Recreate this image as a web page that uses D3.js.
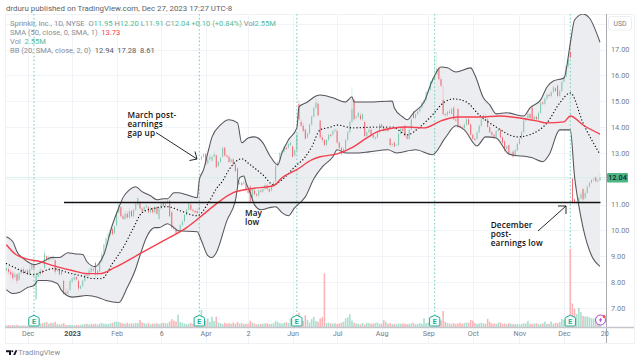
<!DOCTYPE html>
<html><head><meta charset="utf-8">
<script src="https://cdn.jsdelivr.net/npm/d3@7/dist/d3.min.js"></script>
<style>html,body{margin:0;padding:0;background:#fff}svg{display:block}text{font-family:Roboto,"Open Sans",sans-serif}</style>
</head><body><svg id="c" width="640" height="362"></svg>
<script>
const opens=[8.45,8.50,8.40,8.35,8.20,8.30,8.10,8.35,8.50,8.35,
8.45,8.30,8.50,8.70,7.35,8.20,8.30,8.45,8.55,9.00,
8.85,8.95,8.90,8.85,8.45,8.50,8.30,8.05,7.60,7.55,
7.70,8.00,8.10,8.20,8.05,7.75,7.85,8.05,8.30,8.25,
8.40,8.50,8.75,8.30,8.40,8.80,9.10,9.40,9.70,9.85,
10.05,9.90,10.20,10.70,10.90,10.55,10.45,10.65,10.50,10.75,
10.55,10.80,11.00,11.10,10.85,10.75,10.90,10.90,10.70,10.85,
10.70,10.90,10.45,10.85,11.10,10.95,11.05,11.15,10.70,10.10,
10.05,9.95,9.95,10.20,10.35,10.60,10.80,11.00,10.80,10.75,
10.75,10.80,12.75,12.85,12.95,12.60,12.75,12.70,12.85,12.90,
12.50,12.65,12.85,13.20,12.90,12.85,12.65,12.75,12.55,12.40,
11.80,11.85,11.80,11.80,11.55,11.70,11.15,11.55,11.40,11.35,
11.55,11.50,11.60,11.75,11.60,11.55,11.75,11.90,12.50,12.75,
13.00,13.05,13.20,13.20,13.30,13.25,12.90,13.10,14.90,14.20,
14.05,13.90,13.60,13.75,14.10,14.40,14.75,14.90,14.25,13.60,
13.50,13.30,13.50,13.70,13.70,13.85,13.85,13.40,13.20,13.00,
13.15,13.50,13.80,14.20,15.05,14.35,14.40,14.45,14.30,14.20,
13.65,13.80,13.90,13.70,13.55,13.60,13.80,14.10,14.00,13.85,
13.95,13.55,13.30,13.40,13.30,13.30,13.75,13.95,14.05,13.65,
13.55,13.90,14.60,14.35,14.50,14.60,14.75,14.95,15.05,15.35,
15.45,15.75,15.85,16.05,16.30,15.85,15.05,14.50,14.45,14.60,
14.50,14.75,14.30,14.70,14.05,14.00,13.95,14.10,14.30,14.10,
13.70,13.55,13.55,13.80,14.05,14.30,14.40,14.30,14.00,13.80,
13.70,13.60,13.85,13.90,13.60,13.45,13.15,13.30,12.95,13.05,
12.90,13.10,13.35,13.55,13.80,14.25,14.35,14.50,14.75,14.30,
14.40,14.30,14.55,14.95,14.90,15.10,15.25,15.20,15.35,15.50,
15.60,15.20,15.40,15.75,15.95,16.35,16.90,12.00,11.20,11.05,
11.10,11.25,11.60,11.25,11.45,11.70,11.85,11.95,12.05,11.90,11.95];
const closes=[8.55,8.40,8.30,8.15,8.30,8.05,8.35,8.50,8.35,8.45,
8.30,8.50,8.70,8.55,8.25,8.35,8.45,8.35,9.10,8.85,
8.95,8.90,9.00,8.40,8.50,8.30,8.40,7.55,7.55,7.65,
8.05,8.15,8.20,8.10,7.75,7.85,8.05,8.30,8.25,8.45,
8.55,8.45,8.30,8.45,8.80,9.10,9.45,9.70,9.85,10.00,
9.85,10.15,10.70,11.00,10.55,10.45,10.65,10.50,10.75,10.55,
10.80,11.05,11.25,10.85,10.75,10.90,10.95,10.70,10.85,10.70,
10.90,10.65,10.85,11.10,10.95,11.10,11.15,10.55,10.10,10.05,
9.90,9.97,10.20,10.35,10.60,10.80,11.05,10.80,10.75,10.70,
10.68,10.90,12.85,12.95,12.55,12.75,12.85,12.85,12.95,12.45,
12.65,12.80,13.20,12.90,12.85,12.65,12.75,12.55,12.30,11.75,
11.85,11.75,11.90,11.55,11.45,11.10,11.60,11.40,11.35,11.55,
11.50,11.60,11.75,11.60,11.50,11.75,11.85,12.50,12.65,13.00,
13.10,13.25,13.15,13.35,13.40,12.85,13.10,13.70,14.30,14.05,
13.85,13.55,13.75,14.10,14.40,14.75,14.95,14.45,13.60,13.50,
13.30,13.50,13.70,13.65,13.85,13.90,13.40,13.20,12.95,13.15,
13.50,13.80,14.20,14.70,14.30,14.40,14.55,14.30,14.50,13.65,
13.80,13.90,13.70,13.60,13.60,13.80,14.10,14.00,13.85,13.95,
13.85,13.30,13.35,13.25,13.30,13.75,13.95,13.85,13.65,13.55,
13.90,14.30,14.35,14.50,14.60,14.75,14.95,15.05,15.35,15.45,
15.75,15.85,16.00,16.25,15.85,15.60,14.50,14.45,14.60,14.55,
14.70,14.30,14.25,14.00,14.00,13.95,14.10,14.30,14.10,13.70,
13.55,13.50,13.80,14.05,14.30,14.45,14.35,14.00,13.80,13.70,
13.60,13.85,13.90,13.60,13.40,13.10,13.25,12.95,12.95,12.85,
13.10,13.35,13.55,13.80,14.25,14.35,14.50,14.35,14.30,14.40,
14.30,14.55,14.95,14.90,15.10,15.25,15.20,15.35,15.55,15.40,
15.20,15.40,15.75,15.95,16.35,16.60,16.70,11.10,11.05,11.10,
11.25,11.40,11.20,11.45,11.70,11.85,11.95,12.00,11.90,11.95,12.04];
const highs=[8.70,8.60,8.50,8.45,8.40,8.35,8.40,8.55,8.60,8.50,
8.50,8.70,8.85,8.80,8.35,8.45,8.55,8.50,9.25,9.05,
9.05,9.00,9.05,8.90,8.60,8.55,8.45,8.10,7.75,7.75,
8.10,8.25,8.30,8.25,8.10,7.90,8.10,8.35,8.40,8.55,
8.65,8.60,8.80,8.50,8.85,9.20,9.50,9.75,9.95,10.10,
10.10,10.20,10.75,11.05,10.95,10.65,10.75,10.75,10.85,10.80,
10.85,11.10,11.30,11.15,10.90,10.95,11.05,10.95,10.90,10.90,
10.95,10.95,10.90,11.15,11.15,11.15,11.25,11.20,10.75,10.20,
10.10,10.05,10.25,10.40,10.65,10.85,11.10,11.05,10.85,10.80,
10.85,11.30,12.90,13.00,13.00,12.80,12.95,12.90,13.05,12.95,
12.70,12.85,13.25,13.25,12.95,12.90,12.80,12.80,12.60,12.45,
11.95,11.90,11.95,11.85,11.60,11.75,11.65,11.60,11.45,11.60,
11.60,11.65,11.85,11.80,11.65,11.80,11.90,12.55,12.70,13.05,
13.15,13.30,13.25,13.40,13.45,13.30,13.15,13.75,15.05,14.30,
14.15,13.95,13.80,14.15,14.45,14.80,15.10,15.00,14.30,13.70,
13.55,13.55,13.75,13.75,13.90,13.95,13.95,13.45,13.25,13.20,
13.55,13.85,14.25,15.55,15.10,14.45,14.60,14.55,14.55,14.25,
13.85,13.95,13.95,13.75,13.65,13.85,14.15,14.15,14.05,14.00,
14.00,13.60,13.40,13.45,13.35,13.80,14.00,14.00,14.10,13.70,
13.95,14.35,14.65,14.55,14.65,14.80,15.00,15.10,15.40,15.50,
15.80,15.90,16.70,16.90,16.35,15.95,15.60,14.55,14.65,14.70,
14.75,14.80,14.35,14.75,14.10,14.05,14.15,14.35,14.35,14.15,
13.75,13.60,13.85,14.10,14.35,14.55,14.50,14.35,14.05,13.85,
13.75,13.90,13.95,13.95,13.65,13.50,13.30,13.35,13.05,13.10,
13.15,13.40,13.60,13.85,14.30,14.40,14.55,14.55,14.80,14.45,
14.45,14.60,15.00,15.00,15.15,15.30,15.30,15.40,15.60,15.55,
15.65,15.45,15.80,16.00,16.40,16.65,17.40,12.05,11.25,11.15,
11.30,11.50,11.65,11.55,11.75,11.90,12.00,12.05,12.10,12.00,12.20];
const lows=[8.35,8.30,8.20,8.05,8.10,7.95,8.05,8.30,8.30,8.30,
8.25,8.25,8.45,8.40,7.28,8.15,8.25,8.30,8.50,8.80,
8.80,8.85,8.85,8.30,8.40,8.25,8.25,7.50,7.50,7.50,
7.65,7.95,8.05,8.05,7.67,7.70,7.80,8.00,8.20,8.20,
8.35,8.40,8.15,8.25,8.35,8.75,9.05,9.35,9.65,9.80,
9.80,9.85,10.15,10.65,10.50,10.40,10.40,10.45,10.45,10.50,
10.50,10.75,10.95,10.80,10.70,10.70,10.85,10.65,10.65,10.65,
10.65,10.60,10.40,10.80,10.90,10.90,11.00,10.50,10.05,10.00,
9.85,9.90,9.90,10.15,10.30,10.55,10.75,10.75,10.70,10.65,
10.60,10.75,12.70,12.80,12.50,12.55,12.70,12.65,12.80,12.40,
12.45,12.60,12.80,12.85,12.80,12.60,12.60,12.50,12.25,11.70,
11.75,11.70,11.75,11.50,11.40,11.05,11.10,11.35,11.30,11.30,
11.45,11.45,11.55,11.55,11.45,11.50,11.70,11.85,12.45,12.70,
12.95,13.00,13.10,13.15,13.25,12.80,12.85,13.05,14.25,14.00,
13.80,13.50,13.55,13.70,14.05,14.35,14.70,14.40,13.55,13.40,
13.25,13.25,13.45,13.60,13.65,13.80,13.35,13.15,12.90,12.95,
13.10,13.45,13.75,14.15,14.25,14.30,14.35,14.25,14.25,13.60,
13.60,13.75,13.65,13.55,13.50,13.55,13.75,13.95,13.80,13.80,
13.80,13.25,13.25,13.20,13.25,13.25,13.70,13.80,13.60,13.50,
13.50,13.85,14.30,14.30,14.45,14.55,14.70,14.90,15.00,15.30,
15.40,15.70,15.80,16.00,15.80,15.55,14.45,14.40,14.40,14.50,
14.45,14.25,14.20,13.95,13.95,13.90,13.90,14.05,14.05,13.65,
13.50,13.45,13.50,13.75,14.00,14.25,14.30,13.95,13.75,13.65,
13.55,13.55,13.80,13.55,13.35,13.05,13.10,12.90,12.90,12.80,
12.85,13.05,13.30,13.50,13.75,14.20,14.30,14.30,14.25,14.25,
14.25,14.25,14.50,14.85,14.85,15.05,15.15,15.15,15.30,15.35,
15.15,15.15,15.35,15.70,15.90,16.30,16.65,11.05,11.02,11.00,
11.05,11.20,11.15,11.20,11.40,11.65,11.80,11.90,11.85,11.85,11.91];
const volumes=[.5,.6,.5,.6,.5,.7,.5,.4,.5,.5,
.4,.5,.6,.9,2.0,.8,1.0,1.2,1.4,1.5,
1.0,1.3,1.2,1.6,.9,.8,.9,1.2,.7,.6,
.7,.6,.5,.7,.6,.7,.8,.9,1.0,.8,
1.0,.9,1.0,.8,1.1,1.2,1.0,1.0,.9,1.1,
1.3,1.6,1.7,1.5,1.3,1.1,1.0,1.3,1.0,1.2,
1.1,1.3,1.2,2.2,1.4,1.2,1.0,1.3,.9,1.1,
1.0,1.2,.9,1.1,1.3,1.2,1.1,1.7,2.4,2.0,
1.7,3.8,1.5,1.3,1.1,.9,1.0,1.2,.9,.8,
1.1,2.0,5.2,3.0,2.0,2.6,1.6,3.2,1.8,3.2,
1.4,1.2,1.0,1.3,1.1,1.2,1.0,1.4,1.0,1.6,
1.1,1.2,.9,1.0,1.0,1.9,1.3,1.1,.8,1.0,
.9,1.0,1.1,1.2,.9,1.0,1.2,1.8,1.5,1.2,
1.1,1.3,1.5,1.2,2.6,1.6,1.8,2.2,4.4,2.4,
1.8,3.6,2.2,1.4,2.4,3.1,1.8,1.6,2.6,3.0,
16.5,1.2,1.3,1.1,1.0,1.2,.9,1.1,1.3,1.6,
2.6,3.0,3.9,2.0,1.3,1.1,1.0,.9,1.3,.8,
1.3,1.2,1.0,1.1,1.2,1.4,1.0,1.0,2.1,1.6,
1.0,1.2,.9,1.0,.9,1.1,1.0,1.1,1.0,.9,
1.0,1.1,1.3,.9,1.0,1.2,1.0,2.7,1.2,1.4,
.9,1.0,2.2,2.5,3.1,2.0,4.9,1.6,1.2,1.1,
1.0,1.2,.9,1.1,1.3,1.0,1.2,1.4,1.3,2.2,
1.9,1.2,1.0,1.1,1.3,1.2,1.0,2.5,1.6,1.1,
1.1,.9,1.3,1.4,1.0,1.1,.9,1.2,1.0,.9,
.9,1.0,.8,.9,1.2,1.1,1.9,1.0,.9,1.1,
1.2,.9,1.0,1.1,1.6,.9,1.0,1.7,1.0,1.3,
1.2,1.5,2.5,2.2,2.0,3.4,24.0,7.2,5.6,4.0,
5.9,4.6,3.4,3.2,3.3,3.0,2.7,2.6,2.6,2.5,2.55];

const upperIdx=[0,3,5,8,10,13,18,21,23,25,29,32,36,38,42,44,46,50,53,55,58,61,64,68,71,74,76,79,81,85,90,91,93,95,97,101,105,109,111,114,117,121,124,128,130,133,137,138,142,146,148,154,160,163,164,171,182,183,187,189,192,197,201,205,208,212,219,221,225,228,231,236,244,247,252,255,258,263,266,268,272,275,280];
const upperBand=[9.76,9.57,9.18,8.91,8.79,8.68,8.83,8.95,8.95,8.95,9.14,9.10,9.07,8.79,8.60,8.76,9.07,10.22,10.88,11.27,11.57,11.69,11.50,11.34,11.19,11.23,11.23,11.46,11.46,11.38,11.27,11.96,12.35,13.00,13.62,14.08,14.28,14.16,13.39,13.58,13.62,13.39,12.93,12.54,13.00,13.50,13.97,14.78,14.97,15.20,15.24,15.13,14.97,15.17,14.97,14.97,15.01,14.74,14.39,14.28,14.55,14.97,15.82,16.32,16.29,16.13,16.29,16.01,15.13,14.86,14.51,14.55,14.43,14.74,15.05,15.55,15.78,15.90,17.25,18.14,18.37,18.22,17.28];
const lowerIdx=[0,3,6,10,13,15,19,24,26,31,38,43,47,53,57,61,63,66,70,72,76,79,81,90,92,95,97,99,104,108,110,112,113,115,117,120,124,127,130,133,136,139,141,145,149,154,156,160,166,171,180,184,193,201,207,212,216,222,226,231,237,248,253,256,261,266,268,270,272,276,280];
const lowerBand=[7.71,7.56,7.60,7.79,7.87,8.06,8.06,7.95,7.68,7.42,7.48,7.42,7.29,7.21,7.79,8.52,9.03,9.72,10.11,10.11,10.26,10.11,9.99,9.95,9.60,9.03,8.95,9.14,10.38,11.15,12.04,12.11,11.85,11.46,11.00,10.80,10.88,10.92,10.69,10.57,10.88,11.11,11.30,12.00,12.46,12.85,13.12,13.00,13.00,13.04,13.12,13.00,13.12,12.93,13.58,14.05,13.89,13.27,13.62,13.58,12.96,12.81,12.66,12.93,13.89,13.89,12.08,10.96,10.11,9.03,8.61];
const midIdx=[0,5,10,13,17,22,29,35,41,45,50,55,60,64,71,76,82,90,95,99,102,105,111,115,121,126,130,136,141,144,148,153,156,163,175,182,189,195,201,206,211,217,223,231,241,248,255,261,266,272,280];
const midBand=[8.72,8.52,8.33,8.29,8.41,8.52,8.37,8.25,8.14,8.14,8.72,9.33,10.11,10.69,10.88,10.92,10.76,10.57,11.03,11.61,11.92,12.35,12.77,12.54,12.15,11.77,11.96,12.46,12.85,13.23,13.89,14.00,14.08,13.97,14.00,14.00,13.70,14.00,14.47,14.93,15.09,14.97,14.47,14.00,13.62,13.74,14.16,14.93,15.32,14.16,12.94];
const smaIdx=[0,4,9,16,22,31,38,44,51,63,74,85,91,99,107,115,126,130,137,144,148,156,163,170,176,189,197,205,213,223,233,242,250,255,263,266,272,280];
const sma50=[9.45,9.10,8.91,8.79,8.64,8.45,8.33,8.33,8.56,9.10,9.60,10.11,10.49,11.03,11.46,11.61,11.73,12.04,12.35,12.73,12.85,12.96,13.20,13.58,13.85,14.00,13.97,14.24,14.39,14.39,14.43,14.35,14.24,14.16,14.20,14.43,14.08,13.73];

const priceTicks=[7,8,9,10,11,13,14,15,16,17];
const gridPrices=[7,8,9,10,11,12,13,14,15,16,17,18];
const tickIdx=[10,31,52,73,94,114,135,156,177,199,220,242,263,282];
const tickLabels=["Dec","2023","Feb","6","Apr","2","Jun","Jul","Aug","Sep","Oct","Nov","Dec","20"];
const earningsIdx=[13,91,137,202,266];
const supportPrice=11.08;
const lastClose=12.04;

const svg=d3.select("#c");
const x=d3.scaleLinear().domain([0,280]).range([6.4,600]);
const y=d3.scaleLinear().domain([7,17]).range([308,49.5]);
const vy=d3.scaleLinear().domain([0,24]).range([327,249]);

const GREEN="#45b58e",RED="#f4424f",GRID="#f0f3f8";
const defs=svg.append("defs");
defs.append("clipPath").attr("id","plot").append("rect").attr("x",5).attr("y",14).attr("width",601).attr("height",313);

// frame
svg.append("rect").attr("x",5.5).attr("y",14.5).attr("width",629).attr("height",329).attr("fill","#fff").attr("stroke","#eff1f5");

// grid
svg.append("g").selectAll("line").data(gridPrices).join("line")
 .attr("x1",5).attr("x2",606).attr("y1",d=>Math.round(y(d))+.5).attr("y2",d=>Math.round(y(d))+.5).attr("stroke",GRID);
svg.append("g").selectAll("line").data(tickIdx.slice(0,-1)).join("line")
 .attr("x1",d=>Math.round(x(d))+.5).attr("x2",d=>Math.round(x(d))+.5).attr("y1",14).attr("y2",343).attr("stroke",GRID);

const plot=svg.append("g").attr("clip-path","url(#plot)");

const line=d3.line().x(d=>x(d[0])).y(d=>y(d[1])).curve(d3.curveMonotoneX);
const upperPts=upperIdx.map((d,i)=>[d,upperBand[i]]);
const lowerPts=lowerIdx.map((d,i)=>[d,lowerBand[i]]);
const midPts=midIdx.map((d,i)=>[d,midBand[i]]);
const smaPts=smaIdx.map((d,i)=>[d,sma50[i]]);
plot.append("path").attr("d",line(upperPts)+"L"+line(lowerPts.slice().reverse()).slice(1)+"Z").attr("fill","#ecedf1");

// price line
plot.append("line").attr("x1",5).attr("x2",606).attr("y1",y(lastClose)).attr("y2",y(lastClose))
 .attr("stroke","#d5f0e6").attr("stroke-width",1);

// earnings lines
plot.append("g").selectAll("line").data(earningsIdx).join("line")
 .attr("x1",d=>x(d)).attr("x2",d=>x(d)).attr("y1",14).attr("y2",327)
 .attr("stroke","#7bd3c0").attr("stroke-width",1.1).attr("stroke-dasharray","1.6 2.2");

// volume
const volCol=i=>closes[i]>=opens[i]?"#a9dfcf":"#fbb5b8";
plot.append("g").selectAll("rect").data(volumes).join("rect")
 .attr("x",(d,i)=>x(i)-.8).attr("width",1.6).attr("y",d=>vy(d)).attr("height",d=>327-vy(d))
 .attr("fill",(d,i)=>volCol(i));

// candles
const colr=i=>closes[i]>=opens[i]?GREEN:RED;
const cg=plot.append("g");
cg.selectAll("line").data(highs).join("line")
 .attr("x1",(d,i)=>x(i)).attr("x2",(d,i)=>x(i)).attr("y1",d=>y(d)).attr("y2",(d,i)=>y(lows[i]))
 .attr("stroke",(d,i)=>colr(i)).attr("stroke-width",.7).attr("opacity",.28);
cg.selectAll("rect").data(opens).join("rect")
 .attr("x",(d,i)=>x(i)-.5).attr("width",1)
 .attr("y",(d,i)=>y(Math.max(d,closes[i])))
 .attr("height",(d,i)=>Math.max(.5,Math.abs(y(d)-y(closes[i]))))
 .attr("fill",(d,i)=>colr(i)).attr("opacity",(d,i)=>closes[i]>=opens[i]?.6:.75);

// bands
plot.append("path").attr("d",line(upperPts)).attr("fill","none").attr("stroke","#55555a").attr("stroke-width",1.05);
plot.append("path").attr("d",line(lowerPts)).attr("fill","none").attr("stroke","#55555a").attr("stroke-width",1.05);
plot.append("path").attr("d",line(midPts)).attr("fill","none").attr("stroke","#111").attr("stroke-width",1.3)
 .attr("stroke-linecap","round").attr("stroke-dasharray","0.1 3.2");
plot.append("path").attr("d",line(smaPts)).attr("fill","none").attr("stroke","#f4404f").attr("stroke-width",1.4);

// support line
svg.append("line").attr("x1",64).attr("x2",600.5).attr("y1",y(supportPrice)).attr("y2",y(supportPrice))
 .attr("stroke","#111").attr("stroke-width",1.5);

// earnings markers
const eg=svg.append("g").selectAll("g").data(earningsIdx).join("g").attr("transform",d=>`translate(${x(d)},315)`);
eg.append("path").attr("d","M0,0.3 L4.9,2.5 Q5.2,2.7 5.2,3.2 L5.2,10 Q5.2,11 4.2,11 L-4.2,11 Q-5.2,11 -5.2,10 L-5.2,3.2 Q-5.2,2.7 -4.9,2.5 Z")
 .attr("fill","#f1fbf8").attr("stroke","#22ab94").attr("stroke-width",1);
eg.append("text").attr("y",9).attr("text-anchor","middle").attr("font-size",7).attr("font-weight",700).attr("fill","#22ab94").text("E");

// lightning badge
const bolt=svg.append("g").attr("transform","translate(600.5,320)");
bolt.append("circle").attr("r",5).attr("fill","#fff").attr("stroke","#b13fd6").attr("stroke-width",1);
bolt.append("path").attr("d","M1,-3.2 L-1.8,0.6 L-0.2,0.6 L-1,3.2 L1.8,-0.8 L0.2,-0.8 Z").attr("fill","#b13fd6");
bolt.append("circle").attr("cx",3.6).attr("cy",-3.6).attr("r",1.5).attr("fill","#ef5350");

// axes
const axisY=d3.axisRight(y).tickValues(priceTicks).tickFormat(d3.format(".2f")).tickSize(0).tickPadding(5);
const gy=svg.append("g").attr("transform","translate(606,0)").call(axisY);
gy.select(".domain").remove();
gy.selectAll("text").attr("font-size",7.3).attr("fill","#787b86");
svg.append("line").attr("x1",606.5).attr("x2",606.5).attr("y1",14).attr("y2",343).attr("stroke","#a9abb1").attr("stroke-width",1);
svg.append("line").attr("x1",5).attr("x2",634).attr("y1",327.5).attr("y2",327.5).attr("stroke","#c4c6cb").attr("stroke-width",1.4);

const axisX=d3.axisBottom(x).tickValues(tickIdx).tickFormat((d,i)=>tickLabels[i]).tickSize(0).tickPadding(4);
const gx=svg.append("g").attr("transform","translate(0,327)").call(axisX);
gx.select(".domain").remove();
gx.selectAll("text").attr("font-size",7.2).attr("font-weight",(d,i)=>tickLabels[i]==="2023"?700:400)
 .attr("fill",(d,i)=>tickLabels[i]==="2023"?"#4a4d57":"#787b86");

// price tag
svg.append("rect").attr("x",607).attr("y",y(lastClose)-4.8).attr("width",21).attr("height",9.6).attr("rx",1).attr("fill","#4db584");
svg.append("text").attr("x",617.5).attr("y",y(lastClose)+2.6).attr("text-anchor","middle").attr("font-size",7.3).attr("font-weight",500).attr("fill","#123").text(d3.format(".2f")(lastClose));

// USD box
svg.append("rect").attr("x",608.5).attr("y",16.5).attr("width",23).attr("height",13.5).attr("rx",2).attr("fill","#fff").attr("stroke","#eceef2");
svg.append("text").attr("x",620).attr("y",26.3).attr("text-anchor","middle").attr("font-size",6.8).attr("fill","#787b86").text("USD");

// header & legend
svg.append("text").attr("x",6).attr("y",11.3).attr("font-size",7.9).attr("fill","#5c5f68").text("drduru published on TradingView.com, Dec 27, 2023 17:27 UTC-8");
const L1=[["Sprinklr, Inc., 1D, NYSE  ","#8a8d96"],["O","#8a8d96"],["11.95 ","#55bb96"],["H","#8a8d96"],["12.20 ","#55bb96"],["L","#8a8d96"],["11.91 ","#55bb96"],["C","#8a8d96"],["12.04 +0.10 (+0.84%) ","#55bb96"],["Vol","#8a8d96"],["2.55M","#55bb96"]];
const addLegend=(yy,parts)=>{const t=svg.append("text").attr("x",10).attr("y",yy).attr("font-size",7.55).attr("xml:space","preserve");
 parts.forEach(p=>t.append("tspan").attr("fill",p[1]).text(p[0]));};
addLegend(25.8,L1);
addLegend(35,[["SMA (50, close, 0, SMA, 1)  ","#8a8d96"],["13.73","#f4404f"]]);
addLegend(44,[["Vol  ","#8a8d96"],["2.55M","#55bb96"]]);
addLegend(53,[["BB (20, SMA, close, 2, 0)  ","#8a8d96"],["12.94  17.28  8.61","#555862"]]);

// annotations
const note=(xx,yy,lines,fs)=>{const t=svg.append("text").attr("font-size",fs||8.2).attr("font-weight",600).attr("fill","#111").attr("letter-spacing",.15).style("font-family","'Open Sans',sans-serif");
 lines.forEach((s,i)=>t.append("tspan").attr("x",xx).attr("y",yy+i*8.9).text(s));};
note(127.5,118,["March post-","earnings","gap up"]);
note(245,216,["May","low"]);
note(490.7,228,["December","post-","earnings low"]);
const arrow=d=>svg.append("path").attr("d",d).attr("fill","none").attr("stroke","#111").attr("stroke-width",.9);
arrow("M156,132.5L197,159M189.5,160.5L197,159L195,151.5");
arrow("M538,231L566,206M558,206L566,206L566,214");

// footer logo
svg.append("path").attr("d","M6,350.2H11V355H9V352.2H6Z M15.4,350.2H17.4L15.2,355H13.2Z").attr("fill","#131722");
svg.append("circle").attr("cx",12.3).attr("cy",351.2).attr("r",1).attr("fill","#131722");
svg.append("text").attr("x",18.3).attr("y",355).attr("font-size",7.6).attr("fill","#8a8d96").text("TradingView");
</script></body></html>
